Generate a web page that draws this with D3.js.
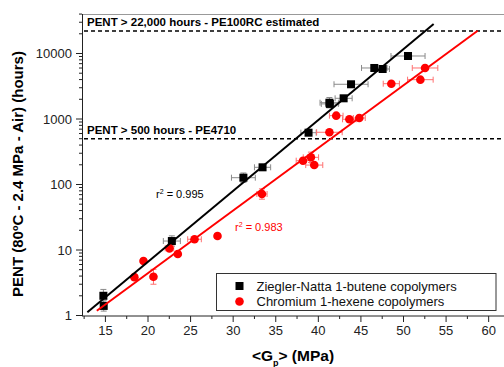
<!DOCTYPE html>
<html><head><meta charset="utf-8">
<script src="https://cdn.jsdelivr.net/npm/d3@7"></script>
<style>body{margin:0;background:#fff}svg{display:block;font-family:"Liberation Sans",Arial,sans-serif}</style>
</head><body><svg id="c" width="504" height="367"></svg>
<script>
// Ziegler-Natta 1-butene copolymers (black squares)
const znX   = [14.76, 14.8, 22.8, 31.2, 33.45, 38.85, 41.3, 41.35, 42.97, 43.84, 46.57, 47.55, 50.53];
const znY   = [2.0, 1.4, 13.7, 127, 183, 618, 1774, 1700, 2070, 3390, 6010, 5800, 9160];
const znXErr= [0.3, 0.3, 1.0, 1.4, 0.95, 0.9, 1.1, 1.0, 1.0, 2.0, 1.5, 0.8, 2.0];
const znYErr= [1.25, 1.2, 1.2, 1.18, 1.05, 1.05, 1.2, 1.1, 1.05, 1.05, 1.05, 1.05, 1.05];
// Chromium 1-hexene copolymers (red circles)
const crX   = [18.4, 19.47, 20.64, 22.52, 23.5, 25.46, 28.16, 33.38, 38.2, 39.13, 39.52, 41.3, 42.1, 43.64, 44.81, 48.57, 51.98, 52.53];
const crY   = [3.85, 6.8, 3.9, 10.6, 8.7, 14.6, 16.4, 71.6, 231, 260, 198, 627, 1124, 990, 1036, 3460, 3985, 6010];
const crXErr= [0.3, 0.3, 0.3, 0.5, 0.3, 0.8, 0.3, 0.6, 0.8, 0.9, 1.0, 1.5, 0.8, 0.8, 0.7, 0.95, 1.5, 1.5];
const crYErr= [1.05, 1.05, 1.3, 1.05, 1.05, 1.05, 1.05, 1.2, 1.05, 1.2, 1.05, 1.05, 1.05, 1.05, 1.05, 1.05, 1.05, 1.05];
// fitted lines (end points)
const znFitX = [12.88, 53.54], znFitY = [1.12, 28200];
const crFitX = [13.99, 58.71], crFitY = [1.18, 22300];
const znR2 = "0.995", crR2 = "0.983";
// reference thresholds
const limits = [22000, 500];
const limitLabels = ["PENT > 22,000 hours - PE100RC estimated", "PENT > 500 hours - PE4710"];
const xTicks = [15, 20, 25, 30, 35, 40, 45, 50, 55, 60];
const yTicks = [1, 10, 100, 1000, 10000];
const legendLabels = ["Ziegler-Natta 1-butene copolymers", "Chromium 1-hexene copolymers"];

const svg = d3.select("#c");
const x = d3.scaleLinear().domain([12.25, 61.8]).range([82, 504]);
const y = d3.scaleLog().domain([1, Math.pow(10, 301.5/65.5)]).range([315.5, 14]);
const X0 = 82, X1 = 504, Y0 = 316, Y1 = 14;

// top frame line
svg.append("line").attr("x1", X0).attr("x2", X1).attr("y1", Y1+0.5).attr("y2", Y1+0.5).attr("stroke", "#999").attr("stroke-width", 1);

// x axis
const xa = svg.append("g").attr("transform", `translate(0,${Y0})`);
xa.append("line").attr("x1", X0).attr("x2", X1).attr("stroke", "#222").attr("stroke-width", 1);
const xMinor = d3.range(12.5, 62, 2.5).filter(v => v % 5 !== 0);
xa.selectAll(".mi").data(xMinor).join("line").attr("x1", d => x(d)).attr("x2", d => x(d)).attr("y1", 0).attr("y2", 3).attr("stroke", "#222");
xa.selectAll(".ma").data(xTicks).join("line").attr("x1", d => x(d)).attr("x2", d => x(d)).attr("y1", 0).attr("y2", 6).attr("stroke", "#222");
xa.selectAll("text").data(xTicks).join("text").attr("x", d => x(d)).attr("y", 19).attr("text-anchor", "middle")
  .attr("font-size", 13).attr("fill", "#222").text(d => d);

// y axis
const ya = svg.append("g");
ya.append("line").attr("x1", X0+0.5).attr("x2", X0+0.5).attr("y1", Y1).attr("y2", Y0).attr("stroke", "#222");
const yMinor = [];
for (let dec = 1; dec <= 10000; dec *= 10) for (let k = 2; k <= 9; k++) if (dec*k < y.domain()[1]) yMinor.push(dec*k);
ya.selectAll(".mi").data(yMinor).join("line").attr("x1", X0-3).attr("x2", X0).attr("y1", d => y(d)).attr("y2", d => y(d)).attr("stroke", "#222");
ya.selectAll(".ma").data(yTicks).join("line").attr("x1", X0-6).attr("x2", X0).attr("y1", d => y(d)).attr("y2", d => y(d)).attr("stroke", "#222");
ya.selectAll("text").data(yTicks).join("text").attr("x", X0-10).attr("y", d => y(d)+4.5).attr("text-anchor", "end")
  .attr("font-size", 13).attr("fill", "#222").text(d => d);

// threshold lines
limits.forEach((v, i) => {
  svg.append("line").attr("x1", X0+2).attr("x2", X1).attr("y1", y(v)).attr("y2", y(v))
    .attr("stroke", "#000").attr("stroke-width", 1.6).attr("stroke-dasharray", "4,3");
  svg.append("text").attr("x", 87).attr("y", y(v)-5).attr("font-size", 11.5).attr("font-weight", "bold").text(limitLabels[i]);
});

// error bars
function errBars(xs, ys, xe, ye, col) {
  const g = svg.append("g").attr("stroke", col).attr("stroke-width", 1);
  xs.forEach((xv, i) => {
    const cx = x(xv), cy = y(ys[i]);
    const l = x(xv - xe[i]), r = x(xv + xe[i]);
    g.append("line").attr("x1", l).attr("x2", r).attr("y1", cy).attr("y2", cy);
    g.append("line").attr("x1", l).attr("x2", l).attr("y1", cy-3).attr("y2", cy+3);
    g.append("line").attr("x1", r).attr("x2", r).attr("y1", cy-3).attr("y2", cy+3);
    const t = y(ys[i]*ye[i]), b = y(ys[i]/ye[i]);
    g.append("line").attr("x1", cx).attr("x2", cx).attr("y1", t).attr("y2", b);
    g.append("line").attr("x1", cx-3).attr("x2", cx+3).attr("y1", t).attr("y2", t);
    g.append("line").attr("x1", cx-3).attr("x2", cx+3).attr("y1", b).attr("y2", b);
  });
}
errBars(znX, znY, znXErr, znYErr, "#8a8a8a");
errBars(crX, crY, crXErr, crYErr, "#ff7070");

// points
svg.append("g").selectAll("rect").data(znX).join("rect")
  .attr("x", (d, i) => x(d)-4).attr("y", (d, i) => y(znY[i])-4).attr("width", 8).attr("height", 8).attr("fill", "#000");
svg.append("g").selectAll("circle").data(crX).join("circle")
  .attr("cx", (d, i) => x(d)).attr("cy", (d, i) => y(crY[i])).attr("r", 4.3).attr("fill", "#ff0000");

// fit lines
const line = d3.line().x(d => x(d[0])).y(d => y(d[1]));
svg.append("path").attr("d", line(d3.zip(znFitX, znFitY))).attr("stroke", "#000").attr("stroke-width", 2).attr("fill", "none");
svg.append("path").attr("d", line(d3.zip(crFitX, crFitY))).attr("stroke", "#ff0000").attr("stroke-width", 2).attr("fill", "none");

// r2 labels
function r2(xp, yp, val, col) {
  const t = svg.append("text").attr("x", xp).attr("y", yp).attr("font-size", 11).attr("fill", col);
  t.append("tspan").text("r");
  t.append("tspan").attr("dy", -4).attr("font-size", 7).text("2");
  t.append("tspan").attr("dy", 4).text(" = " + val);
}
r2(156, 198, znR2, "#000");
r2(235, 231, crR2, "#ff0000");

// legend
const lg = svg.append("g");
lg.append("rect").attr("x", 216.5).attr("y", 273.5).attr("width", 279.5).attr("height", 37).attr("fill", "#fff").attr("stroke", "#333");
lg.append("rect").attr("x", 235.5).attr("y", 282).attr("width", 8).attr("height", 8).attr("fill", "#000");
lg.append("circle").attr("cx", 239.5).attr("cy", 301.5).attr("r", 4.3).attr("fill", "#ff0000");
legendLabels.forEach((s, i) => lg.append("text").attr("x", 256.5).attr("y", 290.5 + i*15.5).attr("font-size", 13).attr("fill", "#111").text(s));

// axis titles
const xt = svg.append("text").attr("x", 293).attr("y", 361).attr("text-anchor", "middle").attr("font-size", 15.5).attr("font-weight", "bold");
xt.append("tspan").text("<G");
xt.append("tspan").attr("dy", 5).attr("font-size", 9).text("p");
xt.append("tspan").attr("dy", -5).text("> (MPa)");
svg.append("text").attr("transform", "translate(23,174) rotate(-90)").attr("text-anchor", "middle")
  .attr("font-size", 15).attr("font-weight", "bold").text("PENT (80ºC - 2.4 MPa - Air) (hours)");
</script></body></html>
